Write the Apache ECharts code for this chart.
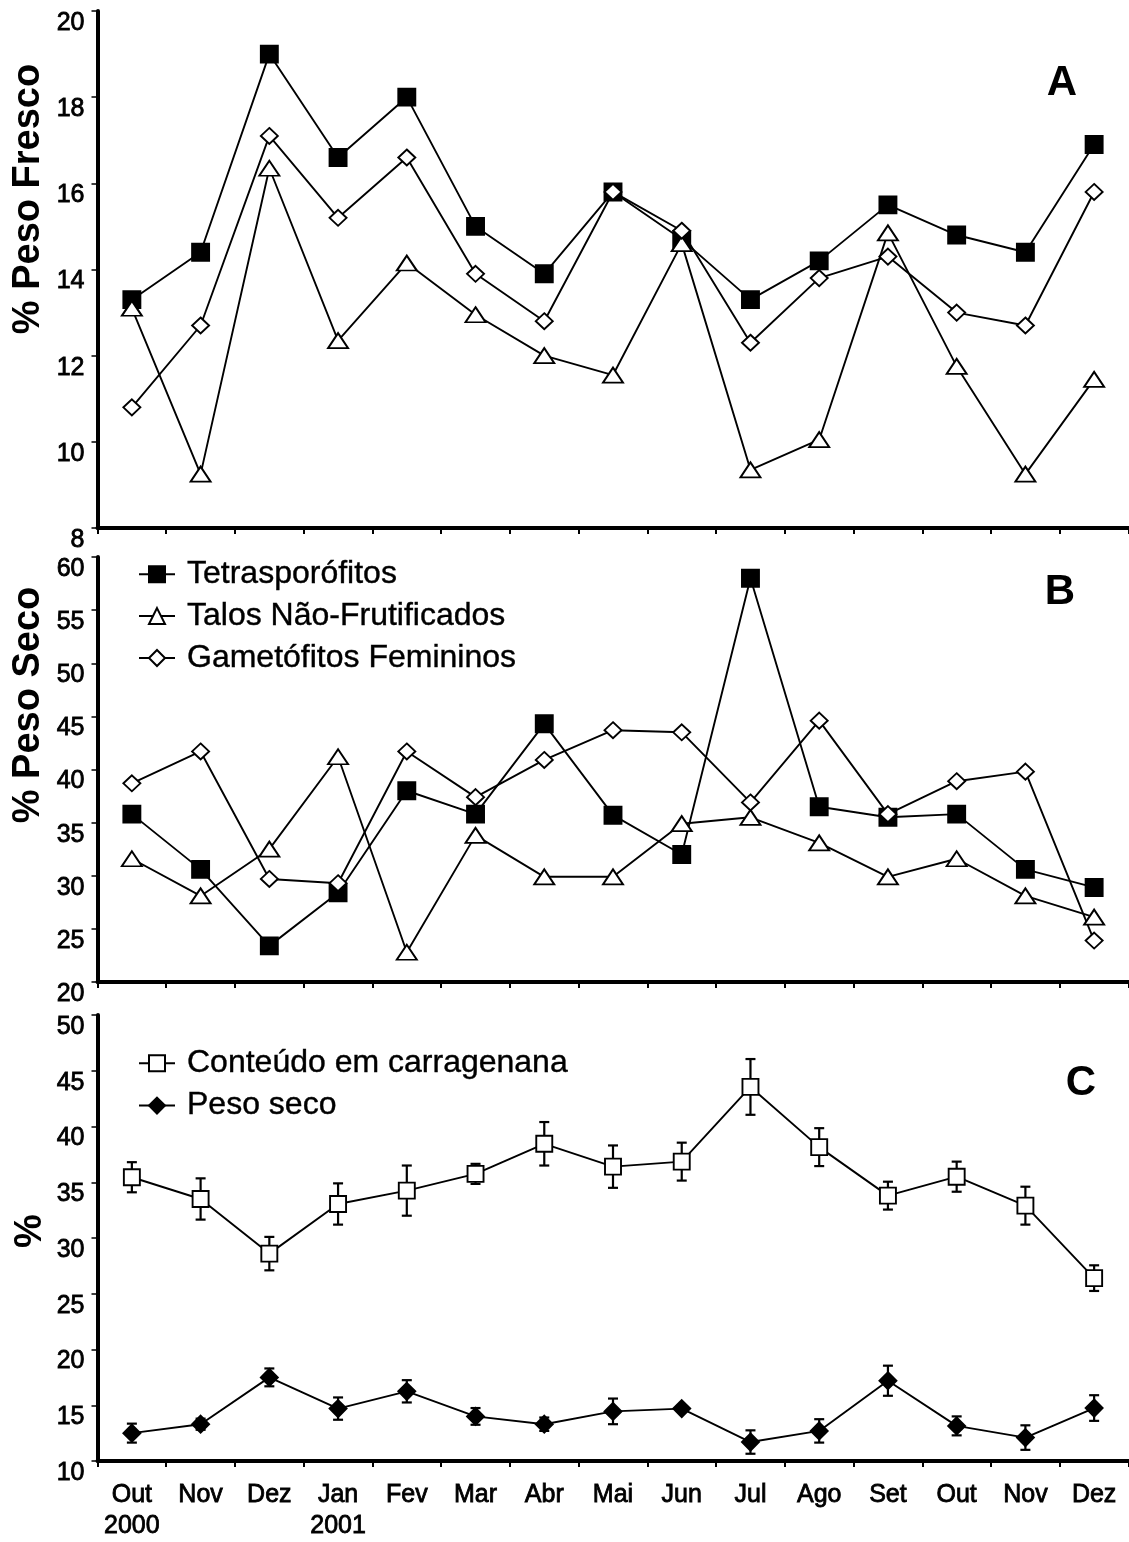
<!DOCTYPE html>
<html>
<head>
<meta charset="utf-8">
<script src="https://cdn.jsdelivr.net/npm/echarts@6/dist/echarts.min.js"></script>
<style>
html,body{margin:0;padding:0;background:#fff;}
#chart{width:1129px;height:1542px;}
</style>
</head>
<body>
<div id="chart"></div>
<script>
// ---- categories & tick labels ----
var monthKeys = ['Out 2000','Nov 2000','Dez 2000','Jan 2001','Fev 2001','Mar 2001','Abr 2001','Mai 2001','Jun 2001','Jul 2001','Ago 2001','Set 2001','Out 2001','Nov 2001','Dez 2001'];
var monthLabels = ['Out\n2000','Nov','Dez','Jan\n2001','Fev','Mar','Abr','Mai','Jun','Jul','Ago','Set','Out','Nov','Dez'];

// ---- Panel A: % Peso Fresco ----
var tetraFresco = [13.3, 14.4, 19.0, 16.6, 18.0, 15.0, 13.9, 15.8, 14.7, 13.3, 14.2, 15.5, 14.8, 14.4, 16.9];
var talosFresco = [13.1, 9.25, 16.35, 12.35, 14.15, 12.95, 12.0, 11.55, 14.6, 9.35, 10.05, 14.85, 11.75, 9.25, 11.45];
var gametFresco = [10.8, 12.7, 17.1, 15.2, 16.6, 13.9, 12.8, 15.8, 14.9, 12.3, 13.8, 14.3, 13.0, 12.7, 15.8];

// ---- Panel B: % Peso Seco ----
var tetraSeco = [35.8, 30.6, 23.4, 28.4, 38.0, 35.8, 44.3, 35.7, 32.0, 58.0, 36.5, 35.5, 35.8, 30.6, 28.9];
var talosSeco = [31.6, 28.1, 32.5, 41.2, 22.8, 33.8, 29.9, 29.9, 34.9, 35.5, 33.1, 29.9, 31.6, 28.1, 26.1];
var gametSeco = [38.7, 41.7, 29.7, 29.3, 41.7, 37.4, 40.9, 43.7, 43.5, 36.9, 44.6, 35.8, 38.9, 39.8, 23.9];

// ---- Panel C: % (mean and error) ----
var carrag = [35.45, 33.5, 28.6, 33.05, 34.25, 35.75, 38.45, 36.4, 36.85, 43.55, 38.15, 33.8, 35.5, 32.9, 26.4];
var carragErr = [1.35, 1.85, 1.5, 1.85, 2.25, 0.9, 1.95, 1.9, 1.7, 2.5, 1.7, 1.25, 1.35, 1.7, 1.15];
var pesoSeco = [12.5, 13.3, 17.5, 14.7, 16.25, 14.0, 13.3, 14.45, 14.7, 11.7, 12.7, 17.2, 13.15, 12.1, 14.75];
var pesoSecoErr = [0.85, 0.5, 0.8, 1.0, 1.0, 0.75, 0.6, 1.15, 0, 1.05, 1.05, 1.35, 0.85, 1.1, 1.15];

// ---- names ----
var nTetra = 'Tetrasporófitos';
var nTalos = 'Talos Não-Frutificados';
var nGamet = 'Gametófitos Femininos';
var nCarrag = 'Conteúdo em carragenana';
var nPeso = 'Peso seco';

var FONT = '"Liberation Sans", Arial, Helvetica, sans-serif';

var chart = echarts.init(document.getElementById('chart'), null, {renderer:'canvas'});

var grids = [
  {left:97.5, top:11, width:1031, height:517},
  {left:97.5, top:557, width:1031, height:425},
  {left:97.5, top:1015, width:1031, height:451}
];

function xAx(i){
  return {
    type:'category', gridIndex:i, data:monthKeys, boundaryGap:true,
    axisLine:{show:true, onZero:false, lineStyle:{color:'#000', width:4}},
    axisTick:{show:true, length:6, inside:false, lineStyle:{color:'#000', width:2}},
    splitLine:{show:false},
    axisLabel:{
      show: i===2, interval:0, margin:19, color:'#000',
      fontFamily:FONT, fontSize:25, lineHeight:31,
      textBorderColor:'#000', textBorderWidth:0.8,
      formatter:function(v, idx){ return monthLabels[idx]; }
    }
  };
}
function yAx(i, mn, mx, step){
  return {
    type:'value', gridIndex:i, min:mn, max:mx, interval:step,
    splitLine:{show:false},
    axisLine:{show:true, onZero:false, lineStyle:{color:'#000', width:4}},
    axisTick:{show:true, length:6, lineStyle:{color:'#000', width:1.5}},
    axisLabel:{color:'#000', fontFamily:FONT, fontSize:25, margin:13, verticalAlign:'top', lineHeight:24,
      textBorderColor:'#000', textBorderWidth:0.8}
  };
}

var LW = 1.9;
function lineSeries(name, data, gi, symbol, size, fill){
  return {
    name:name, type:'line', xAxisIndex:gi, yAxisIndex:gi, data:data,
    symbol:symbol, symbolSize:size, showSymbol:true, showAllSymbol:true,
    lineStyle:{color:'#000', width:LW},
    itemStyle:{color:fill, borderColor:'#000', borderWidth:LW},
    emphasis:{disabled:true}, z:3
  };
}

function errRender(params, api){
  var x = api.value(0), lo = api.value(1), hi = api.value(2);
  if (hi - lo <= 0) return null;
  var a = api.coord([x, lo]), b = api.coord([x, hi]);
  var hw = 5;
  var st = {stroke:'#000', lineWidth:2.2};
  return {type:'group', children:[
    {type:'line', shape:{x1:a[0], y1:a[1], x2:b[0], y2:b[1]}, style:st},
    {type:'line', shape:{x1:a[0]-hw, y1:a[1], x2:a[0]+hw, y2:a[1]}, style:st},
    {type:'line', shape:{x1:b[0]-hw, y1:b[1], x2:b[0]+hw, y2:b[1]}, style:st}
  ]};
}
function errSeries(name, vals, errs){
  return {
    name:name, type:'custom', xAxisIndex:2, yAxisIndex:2,
    renderItem:errRender, encode:{x:0, y:[1,2]},
    data: vals.map(function(v,i){ return [i, v-errs[i], v+errs[i]]; }),
    z:2, silent:true
  };
}

var legendText = {fontSize:32, fontFamily:FONT, color:'#000', lineHeight:32, padding:[0,0,0,7],
  textBorderColor:'#000', textBorderWidth:0.4};

var option = {
  animation:false,
  backgroundColor:'#fff',
  grid:grids,
  xAxis:[xAx(0), xAx(1), xAx(2)],
  yAxis:[yAx(0,8,20,2), yAx(1,20,60,5), yAx(2,10,50,5)],
  legend:[
    {left:138, top:558, orient:'vertical', padding:0, itemWidth:36, itemHeight:20, itemGap:9.5,
     selectedMode:false, data:[nTetra, nTalos, nGamet], textStyle:legendText},
    {left:138, top:1047, orient:'vertical', padding:0, itemWidth:36, itemHeight:20, itemGap:10,
     selectedMode:false, data:[nCarrag, nPeso], textStyle:legendText}
  ],
  graphic:[
    {type:'text', x:29, y:199, rotation:Math.PI/2, style:{text:'% Peso Fresco', font:'bold 38px '+FONT, fill:'#000', align:'center', verticalAlign:'middle'}},
    {type:'text', x:29, y:705, rotation:Math.PI/2, style:{text:'% Peso Seco', font:'bold 38px '+FONT, fill:'#000', align:'center', verticalAlign:'middle'}},
    {type:'text', x:31, y:1231, rotation:Math.PI/2, style:{text:'%', font:'bold 38px '+FONT, fill:'#000', align:'center', verticalAlign:'middle'}},
    {type:'text', x:1062, y:83, style:{text:'A', font:'bold 42px '+FONT, fill:'#000', align:'center', verticalAlign:'middle'}},
    {type:'text', x:1060, y:592, style:{text:'B', font:'bold 42px '+FONT, fill:'#000', align:'center', verticalAlign:'middle'}},
    {type:'text', x:1081, y:1083, style:{text:'C', font:'bold 42px '+FONT, fill:'#000', align:'center', verticalAlign:'middle'}}
  ],
  series:[
    lineSeries(nTetra, tetraFresco, 0, 'rect', 17, '#000'),
    lineSeries(nTalos, talosFresco, 0, 'triangle', [20,15], '#fff'),
    lineSeries(nGamet, gametFresco, 0, 'diamond', [17,16], '#fff'),
    lineSeries(nTetra, tetraSeco, 1, 'rect', 17, '#000'),
    lineSeries(nTalos, talosSeco, 1, 'triangle', [20,15], '#fff'),
    lineSeries(nGamet, gametSeco, 1, 'diamond', [17,16], '#fff'),
    errSeries('errCarrag', carrag, carragErr),
    errSeries('errPeso', pesoSeco, pesoSecoErr),
    lineSeries(nCarrag, carrag, 2, 'rect', 16, '#fff'),
    lineSeries(nPeso, pesoSeco, 2, 'diamond', [17,17], '#000')
  ]
};
chart.setOption(option);
</script>
</body>
</html>
